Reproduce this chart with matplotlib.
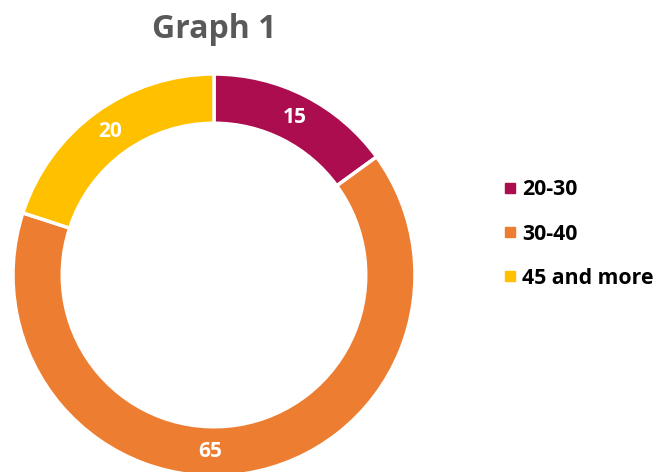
import matplotlib
matplotlib.use("Agg")
import matplotlib.pyplot as plt
from matplotlib.lines import Line2D
import numpy as np

categories = ["20-30", "30-40", "45 and more"]
values = [15, 65, 20]
colors = ["#AB0D4F", "#ED7D31", "#FFC000"]
title = "Graph 1"

# small label nudges (degrees) to mimic the reference label placement
label_nudge = [0, -10.3, 0]

plt.rcParams['font.family'] = ['Open Sans', 'DejaVu Sans']

W, H = 661, 472
fig = plt.figure(figsize=(W / 100, H / 100), dpi=100)
cx, cy, R = 214, 275, 201
ax = fig.add_axes([(cx - R) / W, (H - cy - R) / H, 2 * R / W, 2 * R / H])
wedges, _ = ax.pie(values, colors=colors, startangle=90, counterclock=False,
                   radius=1.0, wedgeprops=dict(width=0.245, edgecolor="white", linewidth=2.5))
ax.set_xlim(-1, 1)
ax.set_ylim(-1, 1)
ax.set_aspect("equal")
ax.axis("off")

start = 90.0
total = sum(values)
for v, nd in zip(values, label_nudge):
    ang = np.deg2rad(start - v / total * 360 / 2 + nd)
    r = 0.88
    ax.text(r * np.cos(ang), r * np.sin(ang), str(v), ha="center", va="center",
            color="white", fontsize=15, fontweight="bold")
    start -= v / total * 360

fig.text(cx / W, 1 - 29 / H, title, ha="center", va="center", fontsize=23,
         fontweight="bold", color="#595959")

handles = [Line2D([0], [0], marker="s", linestyle="none", markersize=7,
                  markerfacecolor=c, markeredgecolor=c) for c in colors]
leg = fig.legend(handles, categories, loc="center left",
                 bbox_to_anchor=(492 / W, 1 - 234 / H), frameon=False,
                 prop=dict(size=15.3, weight="bold"), handletextpad=0.12,
                 labelspacing=1.1, handlelength=0.9, borderaxespad=0)

fig.savefig("out.png", dpi=100)
